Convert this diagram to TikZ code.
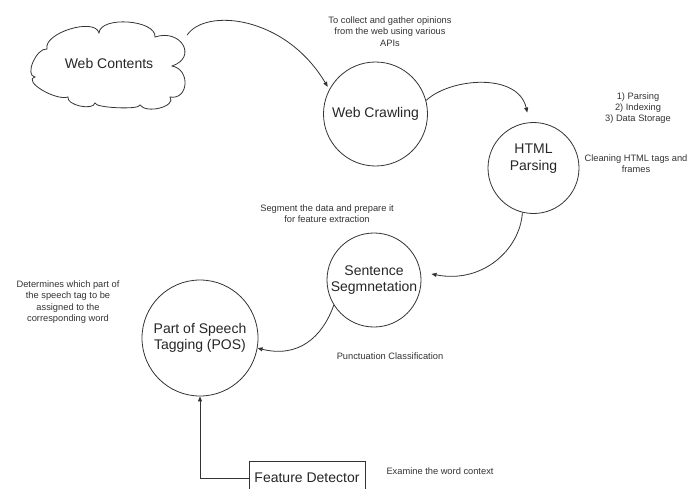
\documentclass[tikz,border=0pt]{standalone}
\usepackage{fontspec}
\setmainfont{Liberation Sans}
\usetikzlibrary{arrows.meta}
\begin{document}
\begin{tikzpicture}[x=1pt,y=-1pt,
  line/.style={draw=black!80, line width=0.8pt},
  circ/.style={line, circle, inner sep=0pt},
  mainlbl/.style={font=\fontsize{14}{16.5}\selectfont, text=black!85, align=center},
  note/.style={font=\fontsize{9.3}{11.3}\selectfont, text=black!80, align=center, inner sep=0pt},
  conn/.style={line, -{Triangle[length=5pt,width=4pt]}},
]
\useasboundingbox (0,0) rectangle (688,488);
\clip (0,0) rectangle (688,488);

% cloud outline
\draw[line, line join=miter]
  (35,77) .. controls (24.3,75.7) and (36.3,47.7) .. (47,49)
  .. controls (43,33) and (95,17) .. (99,33)
  .. controls (100.3,15.7) and (156.3,19.7) .. (155,37)
  .. controls (181,28.3) and (198,57.3) .. (172,66)
  .. controls (190.7,69.3) and (188.7,100.3) .. (170,97)
  .. controls (176.7,106.3) and (146.7,114.3) .. (140,105)
  .. controls (140,110) and (95,108) .. (95,103)
  .. controls (93,111) and (66,105) .. (68,97)
  .. controls (55.3,101) and (22.3,81) .. (35,77) -- cycle;
\node[mainlbl, minimum width=156pt, minimum height=86pt, inner sep=0pt] (web) at (109,63.5) {Web Contents};

\node[circ, minimum size=104pt, mainlbl] (wc) at (375.5,114) {Web Crawling};
\node[circ, minimum size=91pt] (hp) at (533.5,168) {};
\node[mainlbl, inner sep=0pt] (hpt) at (533.5,158.5) {HTML\\Parsing};
\node[circ, minimum size=94pt, mainlbl] (ss) at (374,280) {Sentence\\Segmnetation};
\node[circ, minimum size=116pt, mainlbl] (pos) at (200,338) {Part of Speech\\Tagging (POS)};
\node[line, minimum width=116pt, minimum height=34pt, mainlbl] (fd) at (307,478) {Feature Detector};

\node[note] (n1) at (390,31.5) {To collect and gather opinions\\from the web using various\\APIs};
\node[note] (n2) at (638,108) {1) Parsing\\2) Indexing\\3) Data Storage};
\node[note] (n3) at (636,163.5) {Cleaning HTML tags and\\frames};
\node[note] (n4) at (327,213.5) {Segment the data and prepare it\\for feature extraction};
\node[note] (n5) at (68,302) {Determines which part of\\the speech tag to be\\assigned to the\\corresponding word};
\node[note] (n6) at (390,356) {Punctuation Classification};
\node[note] (n7) at (440,471) {Examine the word context};

\draw[conn, shorten >=3pt] (web.20) .. controls (205,8) and (285,15) .. (wc.152);
\draw[conn, shorten >=10pt] (wc.15) .. controls (450,78) and (518,72) .. (hp.95);
\draw[conn, shorten >=11pt] (hp.256) .. controls (520,250) and (482,284) .. (ss.10);
\draw[conn] (ss.212) .. controls (322,338) and (298,358) .. (pos.-10);
\draw[conn] (fd.west) -| (pos.south);
\end{tikzpicture}
\end{document}
